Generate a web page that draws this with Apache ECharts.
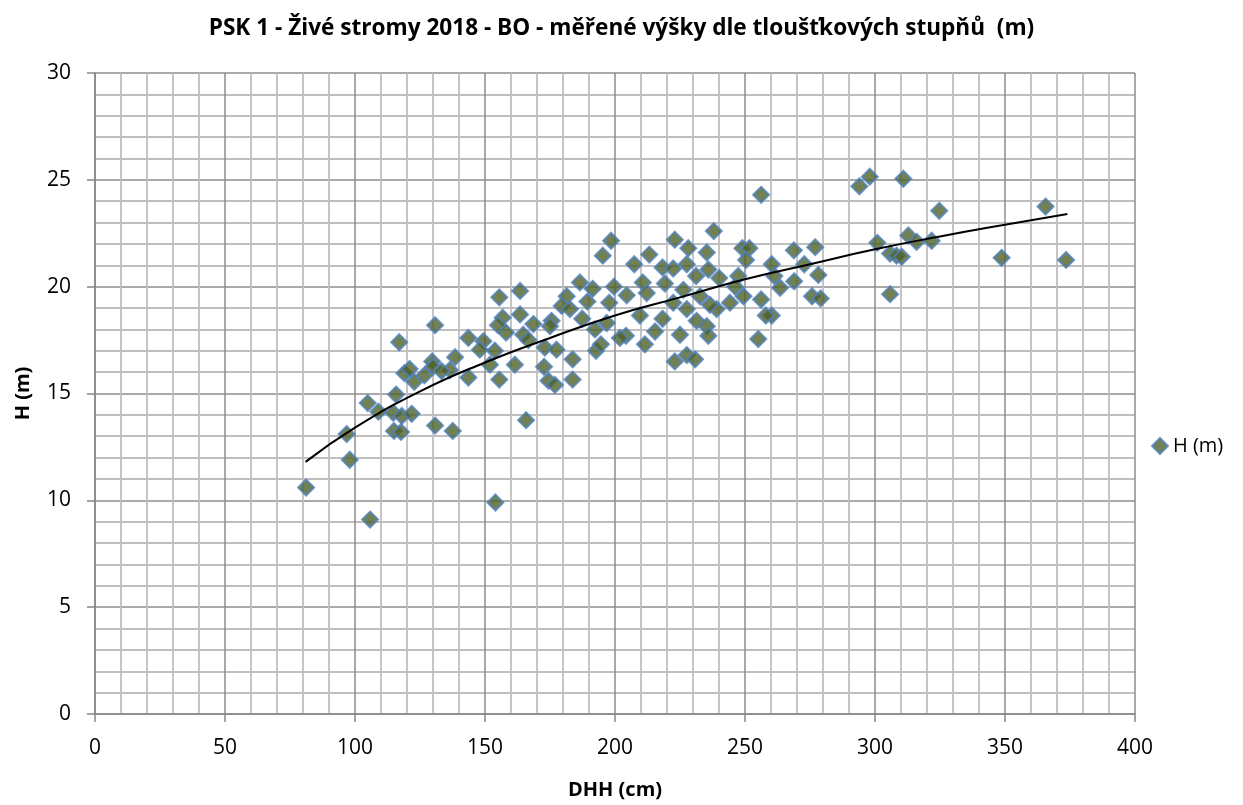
<!DOCTYPE html>
<html>
<head>
<meta charset="utf-8">
<script src="https://cdn.jsdelivr.net/npm/echarts@6/dist/echarts.min.js"></script>
<style>
  html, body { margin: 0; padding: 0; background: #fff; }
  #chart { width: 1243px; height: 805px; }
</style>
</head>
<body>
<div id="chart"></div>
<script>
// measured trees: DHH (cm), H (m)
const dhh = [
    130.8, 117, 143.6, 149.4, 148, 129.7, 130, 119, 121, 122.8,
    126.7, 136.5, 138.5, 143.6, 133.3, 115.8, 104.9, 109, 114.7, 118,
    121.8, 115, 117.7, 130.8, 137.6, 96.8, 98, 81.2, 105.8, 154,
    198.5, 195.3, 213.2, 207.4, 218.3, 186.5, 191.4, 199.6, 204.5, 210.7,
    212.2, 219.2, 181.4, 189.4, 197.8, 179.5, 182.7, 163.5, 155.5, 163.5,
    156.8, 155, 168.6, 175.6, 187.4, 192.3, 196.8, 204.2, 201.9, 209.6,
    215.4, 218.3, 211.5, 158.1, 164.7, 166.7, 153.8, 151.9, 155.5, 161.5,
    173, 177.5, 172.7, 183.7, 174.4, 176.9, 183.7, 192.7, 194.6, 165.8,
    175,
    256.2, 238, 223, 228.2, 235.3, 249, 251.7, 250.4, 268.8, 277,
    272.8, 260.3, 222.4, 227.6, 235.9, 231.2, 240.1, 247.4, 261.3, 278.2,
    268.9, 263.5, 226.3, 232.7, 246.2, 249.4, 244.2, 239.1, 236.5, 227.6,
    222.4, 231.4, 235.3, 225, 235.9, 223, 227.6, 230.8, 256.2, 260.3,
    258, 255.1, 275.8, 279.1,
    294, 298, 310.9, 324.7, 365.6, 300.9, 312.8, 316, 321.8, 305.8,
    308.3, 310.3, 348.7, 373.5, 305.8
];
const vyska = [
    18.2, 17.4, 17.6, 17.45, 17.05, 16.5, 16.25, 15.95, 16.15, 15.55,
    15.85, 16.1, 16.7, 15.75, 16.05, 14.95, 14.55, 14.15, 14.1, 13.95,
    14.05, 13.25, 13.2, 13.5, 13.25, 13.1, 11.9, 10.6, 9.1, 9.9,
    22.15, 21.45, 21.5, 21.05, 20.9, 20.2, 19.9, 20.0, 19.6, 20.2,
    19.7, 20.15, 19.55, 19.3, 19.25, 19.1, 18.95, 19.8, 19.5, 18.7,
    18.55, 18.2, 18.25, 18.4, 18.5, 18.0, 18.3, 17.7, 17.6, 18.65,
    17.9, 18.5, 17.3, 17.85, 17.75, 17.5, 17.0, 16.35, 15.65, 16.35,
    17.15, 17.05, 16.25, 16.6, 15.6, 15.4, 15.65, 17.0, 17.3, 13.75,
    18.15,
    24.3, 22.6, 22.2, 21.8, 21.6, 21.8, 21.8, 21.25, 21.7, 21.85,
    21.05, 21.05, 20.85, 21.05, 20.8, 20.5, 20.4, 20.5, 20.5, 20.55,
    20.25, 19.95, 19.85, 19.55, 20.0, 19.55, 19.25, 18.95, 19.15, 18.95,
    19.25, 18.4, 18.15, 17.75, 17.7, 16.5, 16.8, 16.6, 19.4, 18.65,
    18.65, 17.55, 19.55, 19.45,
    24.7, 25.15, 25.05, 23.55, 23.75, 22.05, 22.4, 22.1, 22.15, 21.55,
    21.45, 21.4, 21.35, 21.25, 19.65
];
// trend line
const trendX = [81, 100, 125, 150, 175, 200, 225, 250, 275, 300, 325, 350, 374];
const trendY = [11.8, 13.4, 15.1, 16.45, 17.6, 18.65, 19.5, 20.35, 21.05, 21.75, 22.35, 22.9, 23.4];

const FONT = '"Open Sans", "Noto Sans", sans-serif';

const chart = echarts.init(document.getElementById('chart'));
chart.setOption({
    animation: false,
    textStyle: { fontFamily: FONT },
    title: {
        text: 'PSK 1 - Živé stromy 2018 - BO - měřené výšky dle tloušťkových stupňů  (m)',
        left: 'center',
        top: 12,
        textStyle: { fontFamily: FONT, fontSize: 22.6, fontWeight: 'bold', color: '#000' }
    },
    legend: {
        data: [{ name: 'H (m)', icon: 'diamond' }],
        orient: 'vertical',
        left: 1146,
        top: 431,
        itemWidth: 16,
        itemHeight: 16,
        itemGap: 4,
        textStyle: { fontFamily: FONT, fontSize: 20, color: '#000' }
    },
    grid: { left: 95, right: 108, top: 73, bottom: 90 },
    xAxis: {
        type: 'value',
        min: 0, max: 400, interval: 50,
        name: 'DHH (cm)',
        nameLocation: 'middle',
        nameGap: 66,
        nameTextStyle: { fontFamily: FONT, fontSize: 20, fontWeight: 'bold', color: '#000' },
        axisLine: { show: true, lineStyle: { color: '#868686', width: 1.5 } },
        axisTick: { show: true, length: 8, lineStyle: { color: '#868686', width: 1.5 } },
        axisLabel: { fontFamily: FONT, fontSize: 21, color: '#000', margin: 24 },
        splitLine: { show: true, lineStyle: { color: '#8c8c8c', width: 1.5 } },
        minorTick: { show: false, splitNumber: 5 },
        minorSplitLine: { show: true, lineStyle: { color: '#bfbfbf', width: 1.8 } }
    },
    yAxis: {
        type: 'value',
        min: 0, max: 30, interval: 5,
        name: 'H (m)',
        nameLocation: 'middle',
        nameGap: 62,
        nameRotate: 90,
        nameTextStyle: { fontFamily: FONT, fontSize: 20, fontWeight: 'bold', color: '#000' },
        axisLine: { show: true, lineStyle: { color: '#868686', width: 1.5 } },
        axisTick: { show: true, length: 8, lineStyle: { color: '#868686', width: 1.5 } },
        axisLabel: { fontFamily: FONT, fontSize: 21, color: '#000', margin: 24 },
        splitLine: { show: true, lineStyle: { color: '#8c8c8c', width: 1.5 } },
        minorTick: { show: false, splitNumber: 5 },
        minorSplitLine: { show: true, lineStyle: { color: '#bfbfbf', width: 1.8 } }
    },
    series: [
        {
            name: 'H (m)',
            type: 'scatter',
            symbol: 'diamond',
            symbolSize: 16,
            data: dhh.map((x, i) => [x, vyska[i]]),
            itemStyle: { color: '#4f6228', borderColor: '#4f81bd', borderWidth: 2 },
            z: 3
        },
        {
            name: 'trend',
            type: 'line',
            data: trendX.map((x, i) => [x, trendY[i]]),
            smooth: true,
            showSymbol: false,
            lineStyle: { color: '#000', width: 2 },
            z: 4
        }
    ]
});
</script>
</body>
</html>
